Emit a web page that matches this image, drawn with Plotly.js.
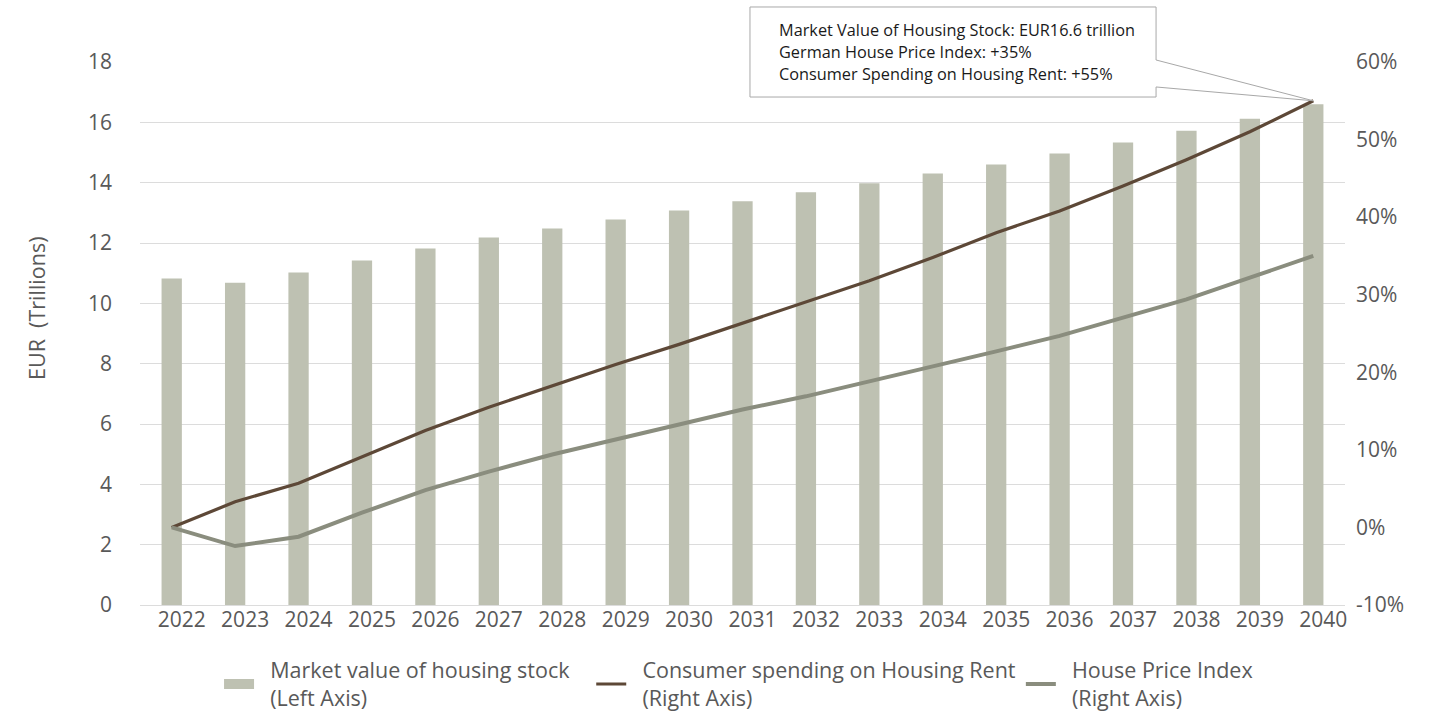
<!DOCTYPE html>
<html>
<head>
<meta charset="utf-8">
<script src="https://cdn.plot.ly/plotly-3.0.1.min.js"></script>
<style>
  html, body { margin: 0; padding: 0; background: #ffffff; }
  #chart { width: 1443px; height: 713px; }
</style>
</head>
<body>
<div id="chart"></div>
<script>
// ---- Data ----
const years = ['2022','2023','2024','2025','2026','2027','2028','2029','2030','2031',
               '2032','2033','2034','2035','2036','2037','2038','2039','2040'];
// Market value of housing stock, EUR trillions (left axis)
const marketValue = [10.82, 10.68, 11.02, 11.42, 11.82, 12.18, 12.48, 12.78, 13.08, 13.38,
                     13.68, 13.98, 14.3, 14.6, 14.97, 15.33, 15.72, 16.12, 16.6];
// Consumer spending on housing rent, % change vs 2022 (right axis)
const rentSpending = [0, 3.3, 5.7, 9.1, 12.5, 15.5, 18.3, 21.0, 23.6, 26.3,
                      29.0, 31.8, 34.8, 38.0, 40.8, 44.0, 47.4, 51.0, 55];
// House price index, % change vs 2022 (right axis)
const housePriceIndex = [0, -2.4, -1.2, 1.9, 4.8, 7.2, 9.4, 11.3, 13.3, 15.2,
                         16.9, 18.8, 20.8, 22.7, 24.7, 27.0, 29.4, 32.2, 35];
const leftTickVals = [0, 2, 4, 6, 8, 10, 12, 14, 16, 18];
const rightTickVals = [-10, 0, 10, 20, 30, 40, 50, 60];
const rightTickText = ['-10%', '0%', '10%', '20%', '30%', '40%', '50%', '60%'];
const seriesNames = [
  ['Market value of housing stock', '(Left Axis)'],
  ['Consumer spending on Housing Rent', '(Right Axis)'],
  ['House Price Index', '(Right Axis)']
];
const yTitle = 'EUR\u00a0\u00a0(Trillions)';

// legend label: two lines, with a small lead-in gap after the swatch
const PAD = '\u00a0\u00a0';
const legendName = (parts, tail) => parts.map((p, i) => PAD + p + (i === 0 ? tail : '')).join('<br>');

// ---- Styles ----
const barColor = '#bec1b2';
const rentColor = '#5d4837';
const hpiColor = '#8a8d7e';
const textColor = '#595959';
const gridColor = '#dcdcdc';
const FONT = '"Open Sans", "Noto Sans", sans-serif';

const leftRange = [0, 18];
const rightRange = [-10, 60];

const traces = [
  { // legend surrogate for bars (wide flat swatch)
    type: 'scatter', mode: 'lines', x: [null], y: [null],
    name: legendName(seriesNames[0], '\u00a0\u00a0\u00a0'), line: { color: barColor, width: 10 },
    hoverinfo: 'skip'
  },
  {
    type: 'bar', x: years, y: marketValue, name: legendName(seriesNames[0], ''),
    marker: { color: barColor }, showlegend: false, yaxis: 'y'
  },
  {
    type: 'scatter', mode: 'lines', x: years, y: rentSpending, name: legendName(seriesNames[1], ''),
    line: { color: rentColor, width: 3.2 }, yaxis: 'y2'
  },
  {
    type: 'scatter', mode: 'lines', x: years, y: housePriceIndex, name: legendName(seriesNames[2], ''),
    line: { color: hpiColor, width: 4 }, yaxis: 'y2'
  }
];

// Callout geometry (paper coordinates); the tip is placed on the last rent data point
const n = years.length;
const tipX = (n - 1 + 0.5) / n;
const tipY = (rentSpending[n - 1] - rightRange[0]) / (rightRange[1] - rightRange[0]);
const bx0 = 0.5062, bx1 = 0.8432, byTop = 1.1013, byBot = 0.9355;
const notch1 = 1.0037, notch2 = 0.9540;
const calloutPath = `M${bx0},${byTop} L${bx1},${byTop} L${bx1},${notch1} L${tipX},${tipY} ` +
                    `L${bx1},${notch2} L${bx1},${byBot} L${bx0},${byBot} Z`;

const calloutLines = [
  `Market Value of Housing Stock: EUR${marketValue[n - 1]} trillion`,
  `German House Price Index: +${housePriceIndex[n - 1]}%`,
  `Consumer Spending on Housing Rent: +${rentSpending[n - 1]}%`
];
const calloutYs = [1.0589, 1.0184, 0.9779];

const annotations = calloutLines.map((t, i) => ({
  xref: 'paper', yref: 'paper', x: 0.5285, y: calloutYs[i],
  xanchor: 'left', yanchor: 'middle', showarrow: false, align: 'left',
  text: t, font: { family: FONT, size: 16.3, color: '#1a1a1a' }
}));
annotations.push({
  xref: 'paper', yref: 'paper', x: -0.0855, y: 0.547,
  xanchor: 'center', yanchor: 'middle', showarrow: false, textangle: -90,
  text: yTitle, font: { family: FONT, size: 21.5, color: textColor }
});

const layout = {
  width: 1443, height: 713,
  margin: { l: 140, r: 98, t: 62, b: 108, autoexpand: false },
  paper_bgcolor: '#ffffff', plot_bgcolor: '#ffffff',
  font: { family: FONT, color: textColor, size: 21 },
  bargap: 0.68,
  showlegend: true,
  xaxis: {
    type: 'category', tickfont: { size: 21, color: textColor },
    showgrid: false, zeroline: false, showline: false, ticks: '',
    ticklabelshift: 10, fixedrange: true
  },
  yaxis: {
    range: leftRange, tickvals: leftTickVals, showgrid: true, gridcolor: gridColor,
    gridwidth: 1, zeroline: true, zerolinecolor: gridColor, zerolinewidth: 1,
    tickfont: { size: 21, color: textColor }, ticks: '', ticklabelstandoff: 27,
    showline: false
  },
  yaxis2: {
    overlaying: 'y', side: 'right', range: rightRange, tickvals: rightTickVals,
    ticktext: rightTickText, showgrid: false, zeroline: false, showline: false,
    tickfont: { size: 21, color: textColor }, ticks: '', ticklabelstandoff: 10
  },
  legend: {
    orientation: 'h', x: 0.0656, xanchor: 'left', y: -0.082, yanchor: 'top',
    font: { family: FONT, size: 21.5, color: textColor }, bgcolor: 'rgba(0,0,0,0)',
    traceorder: 'normal', itemwidth: 30
  },
  shapes: [{
    type: 'path', xref: 'paper', yref: 'paper', path: calloutPath,
    fillcolor: '#ffffff', line: { color: '#a8a8a8', width: 1 }, layer: 'above'
  }],
  annotations: annotations
};

Plotly.newPlot('chart', traces, layout, { displayModeBar: false, staticPlot: true });
</script>
</body>
</html>
